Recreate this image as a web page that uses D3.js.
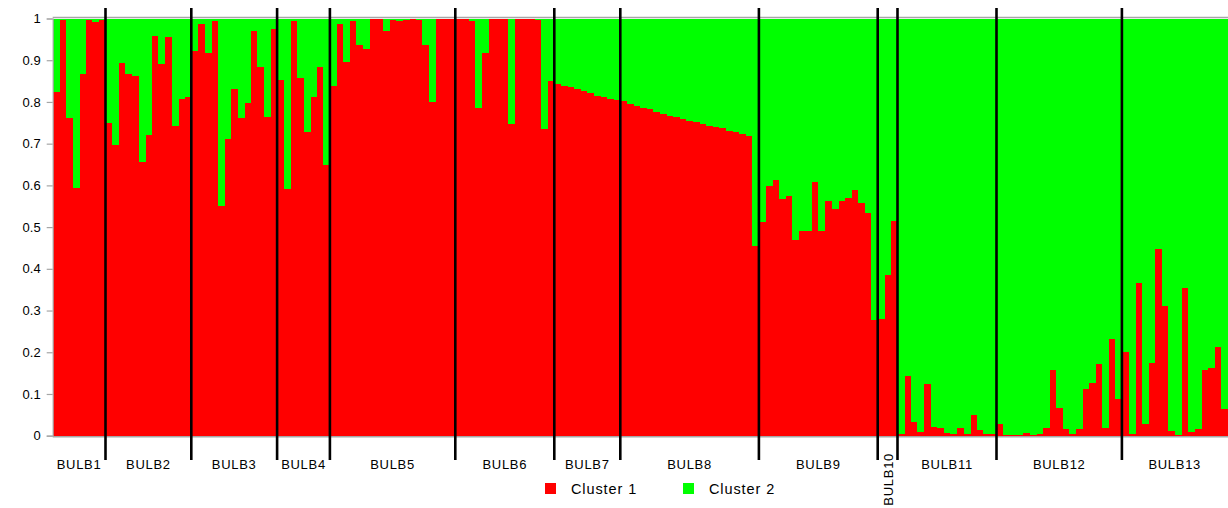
<!DOCTYPE html>
<html>
<head>
<meta charset="utf-8">
<script src="https://cdn.jsdelivr.net/npm/d3@7/dist/d3.min.js"></script>
<style>
  html, body { margin: 0; padding: 0; background: #fff; }
  svg { display: block; font-family: "Liberation Sans", Arial, sans-serif; }
</style>
</head>
<body>
<svg id="chart" width="1228" height="508"></svg>
<script>
// Population names, in plot order
const populations = ["BULB1", "BULB2", "BULB3", "BULB4", "BULB5", "BULB6", "BULB7",
  "BULB8", "BULB9", "BULB10", "BULB11", "BULB12", "BULB13"];

// Membership coefficient (Q) of each individual in Cluster 1, grouped by population
const cluster1 = [
  [0.823, 0.996, 0.762, 0.594, 0.867, 0.996, 0.991, 0.996],
  [0.75, 0.696, 0.894, 0.867, 0.863, 0.656, 0.72, 0.959, 0.892, 0.956, 0.742, 0.806, 0.812],
  [0.922, 0.986, 0.918, 0.995, 0.55, 0.71, 0.83, 0.762, 0.798, 0.969, 0.884, 0.764, 0.975],
  [0.852, 0.591, 0.993, 0.857, 0.727, 0.812, 0.884, 0.65],
  [0.839, 0.986, 0.895, 0.995, 0.936, 0.926, 1.0, 1.0, 0.97, 0.996, 0.994, 0.996, 1.0, 0.996, 0.936, 0.8, 1.0, 1.0, 1.0],
  [0.998, 0.998, 0.995, 0.785, 0.918, 1.0, 1.0, 1.0, 0.748, 1.0, 1.0, 1.0, 0.996, 0.735, 0.85],
  [0.844, 0.839, 0.836, 0.83, 0.826, 0.822, 0.815, 0.812, 0.807, 0.804],
  [0.802, 0.795, 0.79, 0.785, 0.782, 0.775, 0.772, 0.767, 0.764, 0.758, 0.755, 0.751, 0.748, 0.743, 0.74, 0.737, 0.73, 0.727, 0.724, 0.718, 0.455],
  [0.513, 0.598, 0.614, 0.567, 0.574, 0.47, 0.49, 0.49, 0.607, 0.49, 0.563, 0.543, 0.563, 0.57, 0.59, 0.558, 0.534, 0.278],
  [0.279, 0.386, 0.515],
  [0.004, 0.143, 0.034, 0.01, 0.123, 0.02, 0.018, 0.007, 0.004, 0.018, 0.004, 0.049, 0.014, 0.004, 0.004],
  [0.027, 0.001, 0.001, 0.001, 0.007, 0.001, 0.004, 0.019, 0.158, 0.066, 0.015, 0.004, 0.015, 0.113, 0.127, 0.172, 0.019, 0.232, 0.087],
  [0.2, 0.004, 0.366, 0.028, 0.175, 0.448, 0.311, 0.011, 0.001, 0.355, 0.008, 0.015, 0.158, 0.162, 0.212, 0.063]
];

const clusterNames = ["Cluster 1", "Cluster 2"];
const clusterColors = ["#ff0000", "#00ff00"];
const yTicks = [0, 0.1, 0.2, 0.3, 0.4, 0.5, 0.6, 0.7, 0.8, 0.9, 1];

// Flatten to one row per individual; Cluster 2 is the remaining share
const rows = [];
cluster1.forEach((qs, gi) => qs.forEach((q, k) => {
  rows.push({ id: populations[gi] + "_" + (k + 1), pop: populations[gi], c1: q, c2: 1 - q });
}));

const svg = d3.select("#chart");
const plotLeft = 52.7, plotRight = 1228, plotTop = 18.5, plotBottom = 435.7;

const x = d3.scaleBand().domain(rows.map(d => d.id))
  .range([plotLeft, plotLeft + rows.length * 6.6]).padding(0);
const y = d3.scaleLinear().domain([0, 1]).range([plotBottom, plotTop]);

const series = d3.stack().keys(["c1", "c2"])(rows);

// Stacked membership bars
svg.append("g")
  .attr("shape-rendering", "crispEdges")
  .selectAll("g")
  .data(series)
  .join("g")
  .attr("fill", (d, i) => clusterColors[i])
  .selectAll("rect")
  .data(d => d)
  .join("rect")
  .attr("x", d => x(d.data.id))
  .attr("width", x.bandwidth() + 0.5)
  .attr("y", d => y(d[1]))
  .attr("height", d => Math.max(0, y(d[0]) - y(d[1])));

// Frame: left value axis, top and bottom rules
const axisColor = "#a6a6a6";
const yAxis = svg.append("g")
  .attr("transform", `translate(${plotLeft},0)`)
  .call(d3.axisLeft(y).tickValues(yTicks).tickSize(6).tickPadding(6)
    .tickFormat(d => d === 0 || d === 1 ? d3.format("d")(d) : d3.format(".1f")(d)));
yAxis.select(".domain").attr("stroke", axisColor).attr("stroke-width", 1.2);
yAxis.selectAll(".tick line").attr("stroke", axisColor).attr("stroke-width", 1.2);
yAxis.selectAll(".tick text").attr("fill", "#000").attr("font-size", 13)
  .attr("font-family", "'Liberation Sans', Arial, sans-serif");

svg.append("line").attr("x1", plotLeft).attr("x2", plotRight).attr("y1", y(1) - 1).attr("y2", y(1) - 1)
  .attr("stroke", axisColor).attr("stroke-width", 1.5);
svg.append("line").attr("x1", plotLeft).attr("x2", plotRight).attr("y1", y(0) + 1).attr("y2", y(0) + 1)
  .attr("stroke", axisColor).attr("stroke-width", 1.5);

// Population boundaries and labels
let start = 0;
const groups = cluster1.map((qs, gi) => {
  const g = { name: populations[gi], first: rows[start].id, last: rows[start + qs.length - 1].id };
  start += qs.length;
  return g;
});

svg.append("g")
  .selectAll("line")
  .data(groups.slice(0, -1))
  .join("line")
  .attr("x1", d => x(d.last) + x.bandwidth())
  .attr("x2", d => x(d.last) + x.bandwidth())
  .attr("y1", 8)
  .attr("y2", 460)
  .attr("stroke", "#000")
  .attr("stroke-width", 2.6);

svg.append("g")
  .selectAll("text")
  .data(groups)
  .join("text")
  .each(function (d) {
    const x0 = x(d.first), x1 = x(d.last) + x.bandwidth();
    const cx = (x0 + x1) / 2;
    const t = d3.select(this).text(d.name)
      .attr("font-size", 13).attr("letter-spacing", 0.7).attr("fill", "#000");
    if (x1 - x0 < 40) {
      t.attr("transform", `translate(${cx + 5},453) rotate(-90)`).attr("text-anchor", "end");
    } else {
      t.attr("x", cx).attr("y", 469).attr("text-anchor", "middle");
    }
  });

// Legend
const legend = svg.append("g").selectAll("g")
  .data(clusterNames)
  .join("g")
  .attr("transform", (d, i) => `translate(${545 + i * 138},483)`);
legend.append("rect").attr("width", 11).attr("height", 11).attr("fill", (d, i) => clusterColors[i]);
legend.append("text").attr("x", 26).attr("y", 11).attr("font-size", 14.5)
  .attr("letter-spacing", 0.9).attr("fill", "#000").text(d => d);
</script>
</body>
</html>
